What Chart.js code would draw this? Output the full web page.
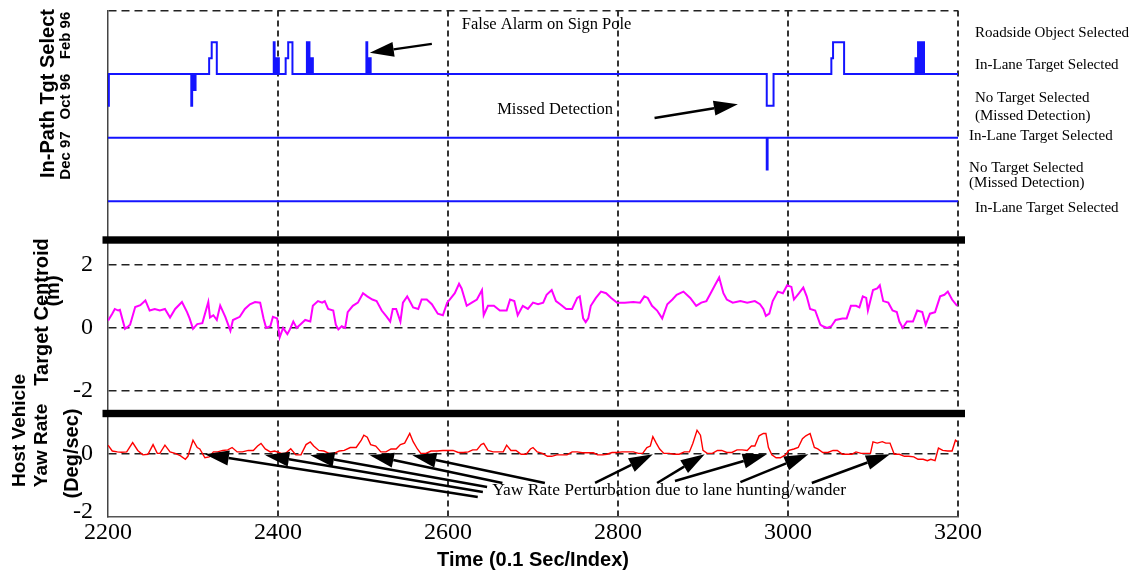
<!DOCTYPE html>
<html>
<head>
<meta charset="utf-8">
<title>In-Path Target Select / Centroid / Yaw Rate</title>
<script src="https://cdn.jsdelivr.net/npm/chart.js@4.4.1/dist/chart.umd.min.js"></script>
<style>
  html, body { margin: 0; padding: 0; background: #fff; }
  #wrap { width: 1138px; height: 573px; }
</style>
</head>
<body>
<div id="wrap"><canvas id="chart" width="1138" height="573"></canvas></div>
<script>
// target select state per firmware build (0 = Dec 97 in-lane ... 5 = Feb 96 roadside object)
const feb96Idx = [2200, 2201, 2298, 2299, 2300, 2301, 2302, 2303, 2319, 2322,
  2328, 2395, 2396, 2398, 2399, 2400, 2401, 2409, 2412, 2417,
  2434, 2435, 2436, 2437, 2438, 2439, 2440, 2441, 2504, 2505,
  2506, 2507, 2508, 2509, 2975, 2983, 3051, 3053, 3066, 3150,
  3151, 3152, 3153, 3154, 3155, 3156, 3157, 3158, 3159, 3160, 3200];
const feb96Val = [3, 4, 3, 4, 3.5, 4, 3.5, 4, 4.5, 5,
  4, 5, 4, 4.5, 4, 4.5, 4, 4.5, 5, 4,
  5, 4, 5, 4, 4.5, 4, 4.5, 4, 5, 4,
  4.5, 4, 4.5, 4, 3, 4, 4.5, 5, 4, 4.5,
  4, 4.5, 5, 4, 5, 4, 5, 4, 5, 4, 4];
const oct96Idx = [2200, 2975, 2976, 3200];
const oct96Val = [2, 1, 2, 2];
const dec97Idx = [2200, 3200];
const dec97Val = [0, 0];

// target centroid (m)
const centroidIdx = [2200, 2205, 2208, 2212, 2214, 2220, 2224, 2226, 2232, 2238,
  2244, 2249, 2255, 2261, 2267, 2273, 2279, 2287, 2293, 2296,
  2300, 2305, 2311, 2318, 2320, 2324, 2328, 2332, 2338, 2344,
  2347, 2355, 2361, 2367, 2373, 2379, 2383, 2386, 2391, 2394,
  2399, 2402, 2406, 2411, 2414, 2418, 2422, 2426, 2432, 2438,
  2441, 2447, 2452, 2455, 2459, 2465, 2468, 2471, 2475, 2479,
  2482, 2488, 2494, 2500, 2505, 2511, 2516, 2522, 2528, 2532,
  2535, 2539, 2544, 2547, 2552, 2555, 2559, 2565, 2569, 2575,
  2581, 2588, 2594, 2599, 2602, 2608, 2613, 2616, 2622, 2628,
  2634, 2640, 2642, 2647, 2654, 2661, 2669, 2673, 2678, 2682,
  2688, 2694, 2700, 2706, 2712, 2716, 2722, 2727, 2732, 2739,
  2746, 2752, 2755, 2759, 2762, 2765, 2768, 2774, 2780, 2786,
  2792, 2799, 2808, 2818, 2826, 2831, 2835, 2840, 2846, 2852,
  2858, 2864, 2869, 2877, 2885, 2892, 2898, 2904, 2909, 2914,
  2919, 2924, 2928, 2935, 2944, 2952, 2961, 2967, 2971, 2974,
  2978, 2982, 2988, 2994, 2999, 3004, 3007, 3013, 3018, 3022,
  3026, 3032, 3038, 3041, 3046, 3051, 3056, 3064, 3069, 3074,
  3080, 3084, 3088, 3092, 3094, 3100, 3105, 3108, 3112, 3118,
  3123, 3128, 3131, 3135, 3140, 3147, 3152, 3158, 3162, 3167,
  3173, 3179, 3184, 3188, 3193, 3199];
const centroidVal = [0.23, 0.45, 0.6, 0.55, 0.57, -0.03, 0.05, 0.1, 0.66, 0.72,
  0.87, 0.55, 0.6, 0.55, 0.6, 0.33, 0.6, 0.82, 0.5, 0.3,
  -0.03, 0.12, 0.15, 0.82, 0.33, 0.4, 0.25, 0.71, 0.35, -0.09,
  0.25, 0.35, 0.6, 0.75, 0.82, 0.8, 0.3, 0.0, 0.05, 0.35,
  0.3, -0.3, 0.0, -0.2, -0.05, 0.2, 0.0, 0.1, 0.25, 0.2,
  0.7, 0.85, 0.8, 0.85, 0.6, 0.55, 0.1, -0.05, 0.05, 0.0,
  0.5, 0.7, 0.8, 1.1, 1.0, 0.9, 0.85, 0.55, 0.35, 0.2,
  0.6, 0.6, 0.2, 0.8, 1.0, 0.85, 0.65, 0.6, 0.9, 0.9,
  0.75, 0.45, 0.4, 0.8, 0.9, 1.1, 1.4, 1.25, 0.7, 0.8,
  0.9, 1.2, 0.4, 0.7, 0.7, 0.55, 0.55, 0.9, 0.85, 0.4,
  0.7, 0.6, 0.8, 0.75, 0.8, 1.05, 1.2, 0.85, 0.75, 0.6,
  0.6, 0.95, 1.0, 0.3, 0.18, 0.3, 0.7, 0.95, 1.15, 1.1,
  0.95, 0.8, 0.8, 0.82, 0.8, 1.0, 0.95, 0.7, 0.55, 0.3,
  0.75, 0.9, 1.05, 1.15, 0.95, 0.7, 0.8, 0.85, 1.1, 1.35,
  1.6, 1.1, 0.9, 0.8, 0.85, 0.8, 0.85, 0.75, 0.6, 0.38,
  0.45, 0.85, 1.15, 1.1, 1.35, 1.3, 0.9, 1.1, 1.28, 1.0,
  0.6, 0.55, 0.1, 0.05, 0.0, 0.05, 0.25, 0.3, 0.3, 0.7,
  0.7, 0.65, 1.0, 0.95, 0.55, 1.2, 1.25, 1.35, 0.85, 0.8,
  0.55, 0.5, 0.2, 0.0, 0.2, 0.2, 0.55, 0.5, 0.1, 0.45,
  0.5, 1.0, 1.05, 1.15, 0.9, 0.7];

// host vehicle yaw rate (deg/sec)
const yawIdx = [2200, 2205, 2211, 2216, 2222, 2229, 2235, 2241, 2247, 2253,
  2258, 2261, 2267, 2273, 2279, 2285, 2291, 2294, 2300, 2305,
  2308, 2314, 2319, 2324, 2329, 2335, 2341, 2346, 2352, 2358,
  2365, 2371, 2376, 2380, 2385, 2391, 2396, 2404, 2409, 2415,
  2421, 2427, 2433, 2438, 2442, 2448, 2454, 2460, 2466, 2472,
  2478, 2485, 2492, 2498, 2501, 2505, 2509, 2515, 2521, 2527,
  2533, 2539, 2544, 2549, 2555, 2559, 2564, 2568, 2574, 2580,
  2587, 2594, 2600, 2606, 2612, 2618, 2624, 2629, 2634, 2639,
  2642, 2647, 2653, 2659, 2665, 2669, 2674, 2680, 2686, 2692,
  2697, 2700, 2705, 2711, 2717, 2722, 2728, 2734, 2740, 2746,
  2752, 2758, 2765, 2771, 2776, 2782, 2787, 2793, 2799, 2805,
  2812, 2818, 2824, 2829, 2834, 2838, 2841, 2845, 2849, 2854,
  2860, 2866, 2872, 2878, 2884, 2888, 2893, 2897, 2900, 2905,
  2911, 2917, 2922, 2928, 2934, 2940, 2946, 2952, 2957, 2961,
  2966, 2971, 2974, 2977, 2981, 2986, 2991, 2997, 3001, 3007,
  3012, 3017, 3021, 3026, 3031, 3035, 3041, 3047, 3053, 3058,
  3064, 3070, 3075, 3080, 3086, 3092, 3097, 3100, 3105, 3111,
  3115, 3120, 3125, 3131, 3137, 3142, 3148, 3153, 3159, 3164,
  3168, 3173, 3177, 3182, 3188, 3193, 3197, 3199];
const yawVal = [0.28, 0.08, 0.05, 0.04, 0.05, 0.37, 0.1, -0.05, -0.03, 0.3,
  0.0, 0.0, 0.28, 0.05, 0.0, -0.08, -0.2, -0.1, 0.45, 0.2,
  0.15, -0.15, -0.12, 0.05, 0.05, 0.1, 0.12, 0.2, 0.05, 0.05,
  0.1, 0.1, 0.25, 0.34, 0.15, 0.05, 0.08, 0.0, 0.0, 0.16,
  -0.05, -0.05, 0.3, 0.39, 0.25, 0.1, 0.08, 0.0, 0.0, 0.08,
  0.1, 0.2, 0.2, 0.45, 0.62, 0.55, 0.3, 0.25, 0.05, 0.05,
  0.15, 0.15, 0.3, 0.35, 0.68, 0.4, 0.15, 0.0, 0.0, 0.08,
  0.08, 0.1, 0.1, 0.1, 0.03, 0.03, 0.05, 0.12, 0.12, 0.3,
  0.34, 0.1, 0.05, 0.05, 0.05, 0.28, 0.1, 0.1, -0.03, -0.03,
  0.15, 0.2, 0.05, 0.0, -0.1, -0.1, -0.05, -0.05, -0.05, 0.05,
  0.05, 0.02, 0.02, 0.02, -0.05, -0.05, -0.03, 0.03, 0.03, 0.05,
  0.05, 0.05, 0.0, 0.0, 0.2, 0.25, 0.57, 0.35, 0.15, 0.0,
  0.0, -0.03, -0.03, 0.05, 0.05, 0.34, 0.79, 0.62, 0.1, 0.0,
  0.0, 0.1, 0.1, 0.03, 0.03, 0.12, 0.12, 0.1, 0.25, 0.25,
  0.6, 0.68, 0.68, 0.2, -0.05, -0.15, -0.15, -0.05, 0.1, 0.15,
  0.2, 0.5, 0.6, 0.68, 0.2, 0.15, 0.03, 0.03, 0.1, 0.1,
  -0.03, -0.03, -0.03, 0.05, 0.0, 0.0, 0.0, 0.39, 0.35, 0.4,
  0.35, 0.35, -0.03, -0.03, -0.1, -0.1, -0.12, -0.2, -0.2, -0.25,
  -0.2, -0.25, 0.18, 0.1, 0.08, 0.08, 0.45, 0.4];

// state names printed right of the select panel
const stateLabels = ['Roadside Object Selected', 'In-Lane Target Selected', 'No Target Selected',
  '(Missed Detection)', 'In-Lane Target Selected', 'No Target Selected', '(Missed Detection)',
  'In-Lane Target Selected'];
const stateLabelIdx = [3220, 3220, 3220, 3220, 3213, 3213, 3213, 3220];
const stateLabelVal = [5.29, 4.29, 3.26, 2.69, 2.05, 1.05, 0.57, -0.21];

// callouts: [fromIdx, fromVal, toIdx, toVal]
const selectArrows = [[2581, 4.95, 2508, 4.67], [2843, 2.62, 2941, 3.05]];
const yawArrows = [
  [2635, -1.49, 2314, -0.03], [2641, -1.32, 2385, -0.06], [2646, -1.15, 2438, -0.06],
  [2664, -1.01, 2508, -0.06], [2714, -1.01, 2558, -0.06], [2773, -1.01, 2841, -0.03],
  [2846, -1.01, 2902, -0.03], [2867, -0.94, 2975, -0.03], [2944, -0.98, 3024, -0.03],
  [3028, -1.01, 3120, -0.03]];

const pts = (xs, ys) => xs.map((v, i) => ({ x: v, y: ys[i] }));

function vText(ctx, text, x, y) {
  ctx.save();
  ctx.translate(x, y);
  ctx.rotate(-Math.PI / 2);
  ctx.textAlign = 'center';
  ctx.textBaseline = 'middle';
  ctx.fillText(text, 0, 0);
  ctx.restore();
}

function arrow(ctx, x1, y1, x2, y2) {
  const a = Math.atan2(y2 - y1, x2 - x1);
  const len = 24, half = 7.5;
  const bx = x2 - len * Math.cos(a), by = y2 - len * Math.sin(a);
  ctx.lineWidth = 2.5;
  ctx.beginPath();
  ctx.moveTo(x1, y1);
  ctx.lineTo(bx, by);
  ctx.stroke();
  ctx.beginPath();
  ctx.moveTo(x2, y2);
  ctx.lineTo(bx + half * Math.sin(a), by - half * Math.cos(a));
  ctx.lineTo(bx - half * Math.sin(a), by + half * Math.cos(a));
  ctx.closePath();
  ctx.fill();
}

// titles, state names, callouts and the heavy panel separators
const panelDecor = {
  id: 'panelDecor',
  afterDraw(chart) {
    const { ctx, chartArea: area, scales } = chart;
    const { x, yT, yM, yB } = scales;
    ctx.save();
    ctx.fillStyle = '#000';
    ctx.strokeStyle = '#000';

    ctx.font = 'bold 20px "Liberation Sans"';
    vText(ctx, 'In-Path Tgt Select', area.left - 60, yT.top + 83);
    vText(ctx, 'Target Centroid', area.left - 66, yM.top + 72);
    vText(ctx, '(m)', area.left - 55, yM.top + 51);
    ctx.font = 'bold 19px "Liberation Sans"';
    vText(ctx, 'Host Vehicle', area.left - 88, yB.top + 17);
    vText(ctx, 'Yaw Rate', area.left - 66, yB.top + 32);
    ctx.font = 'bold 20px "Liberation Sans"';
    vText(ctx, '(Deg/sec)', area.left - 36, yB.top + 40);
    ctx.font = 'bold 15px "Liberation Sans"';
    vText(ctx, 'Feb 96', area.left - 42, yT.top + 25);
    vText(ctx, 'Oct 96', area.left - 42, yT.top + 86);
    vText(ctx, 'Dec 97', area.left - 42, yT.top + 145);

    ctx.font = '15px "Liberation Serif"';
    ctx.textAlign = 'left';
    ctx.textBaseline = 'middle';
    stateLabels.forEach((t, i) => {
      ctx.fillText(t, x.getPixelForValue(stateLabelIdx[i]), yT.getPixelForValue(stateLabelVal[i]));
    });

    ctx.font = '16.5px "Liberation Serif"';
    ctx.textAlign = 'center';
    ctx.fillText('False Alarm on Sign Pole', x.getPixelForValue(2716), yT.getPixelForValue(5.54));
    ctx.fillText('Missed Detection', x.getPixelForValue(2726), yT.getPixelForValue(2.87));
    selectArrows.forEach(([i0, v0, i1, v1]) => {
      arrow(ctx, x.getPixelForValue(i0), yT.getPixelForValue(v0), x.getPixelForValue(i1), yT.getPixelForValue(v1));
    });

    ctx.font = '17.5px "Liberation Serif"';
    ctx.textAlign = 'left';
    ctx.fillText('Yaw Rate Perturbation due to lane hunting/wander', x.getPixelForValue(2652), yB.getPixelForValue(-1.25));
    yawArrows.forEach(([i0, v0, i1, v1]) => {
      arrow(ctx, x.getPixelForValue(i0), yB.getPixelForValue(v0), x.getPixelForValue(i1), yB.getPixelForValue(v1));
    });

    const w = area.right - area.left + 12.5;
    ctx.fillRect(area.left - 5.5, yT.bottom - 3.7, w, 7.4);
    ctx.fillRect(area.left - 5.5, yM.bottom - 3.7, w, 7.4);
    ctx.restore();
  }
};

const tickFont = { family: 'Liberation Serif', size: 24 };
const plainTick = (v) => String(v);
const fixWidth = (s) => { s.width = 108; s.paddingTop = 0; s.paddingBottom = 0; };

new Chart(document.getElementById('chart'), {
  type: 'line',
  data: {
    datasets: [
      { label: 'Feb 96', data: pts(feb96Idx, feb96Val), yAxisID: 'yT', stepped: true,
        borderColor: '#1414ff', borderWidth: 2, pointRadius: 0 },
      { label: 'Oct 96', data: pts(oct96Idx, oct96Val), yAxisID: 'yT', stepped: true,
        borderColor: '#1414ff', borderWidth: 2, pointRadius: 0 },
      { label: 'Dec 97', data: pts(dec97Idx, dec97Val), yAxisID: 'yT', stepped: true,
        borderColor: '#1414ff', borderWidth: 2, pointRadius: 0 },
      { label: 'Target Centroid', data: pts(centroidIdx, centroidVal), yAxisID: 'yM',
        borderColor: '#ff00ff', borderWidth: 2, pointRadius: 0 },
      { label: 'Yaw Rate', data: pts(yawIdx, yawVal), yAxisID: 'yB',
        borderColor: '#ff0000', borderWidth: 1.4, pointRadius: 0 }
    ]
  },
  options: {
    responsive: false,
    animation: false,
    layout: { padding: { top: 10.5, right: 180, bottom: 0, left: 0 } },
    plugins: { legend: { display: false }, tooltip: { enabled: false } },
    scales: {
      x: {
        type: 'linear', min: 2200, max: 3200,
        ticks: { stepSize: 200, font: tickFont, color: '#000', padding: 1, maxRotation: 0, callback: plainTick },
        grid: { color: (c) => (c.tick && c.tick.value === 2200 ? 'transparent' : '#333'), lineWidth: 2, drawTicks: false },
        border: { color: '#555', width: 1.5, dash: [6, 4] },
        title: { display: true, text: 'Time (0.1 Sec/Index)', color: '#000',
          font: { family: 'Liberation Sans', size: 20, weight: 'bold' }, padding: { top: 0, bottom: 1 } },
        afterFit: (s) => { s.height = 56; s.paddingLeft = 0; s.paddingRight = 0; }
      },
      yT: {
        type: 'linear', position: 'left', stack: 'panels', stackWeight: 229.5, weight: 3,
        min: -1.22, max: 6,
        afterBuildTicks: (s) => { s.ticks = [{ value: 6 }]; },
        ticks: { display: false },
        grid: { color: '#222', lineWidth: 1.5, drawTicks: false },
        border: { color: '#444', width: 1.5, dash: [8, 5] },
        afterFit: fixWidth
      },
      yM: {
        type: 'linear', position: 'left', stack: 'panels', stackWeight: 173.5, weight: 2,
        min: -2.72, max: 2.79,
        afterBuildTicks: (s) => { s.ticks = [{ value: -2 }, { value: 0 }, { value: 2 }]; },
        ticks: { font: tickFont, color: '#000', padding: 15, callback: plainTick },
        grid: { color: '#222', lineWidth: 1.5, drawTicks: false },
        border: { color: '#444', width: 1.5, dash: [8, 5] },
        afterFit: fixWidth
      },
      yB: {
        type: 'linear', position: 'left', stack: 'panels', stackWeight: 103.5, weight: 1,
        min: -2.17, max: 1.36,
        afterBuildTicks: (s) => { s.ticks = [{ value: -2 }, { value: 0 }]; },
        ticks: { font: tickFont, color: '#000', padding: 15, callback: plainTick },
        grid: { color: (c) => (c.tick && c.tick.value === 0 ? '#222' : 'transparent'), lineWidth: 1.5, drawTicks: false },
        border: { color: '#444', width: 1.5, dash: [8, 5] },
        afterFit: fixWidth
      }
    }
  },
  plugins: [panelDecor]
});
</script>
</body>
</html>
